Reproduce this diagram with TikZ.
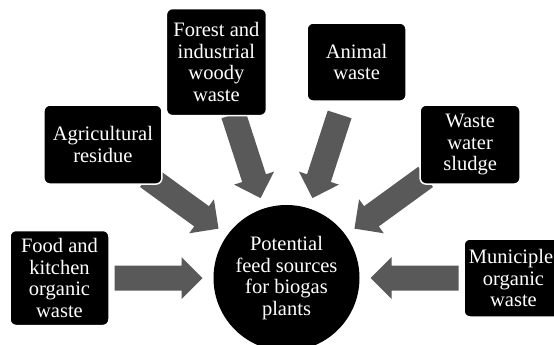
\documentclass[tikz,border=0pt]{standalone}
\usepackage{fontspec}
\setmainfont{Liberation Serif}
\usetikzlibrary{calc}
\pgfdeclarelayer{bg}
\pgfsetlayers{bg,main}
\definecolor{arrowgray}{RGB}{89,89,89}
\tikzset{
  labelfont/.style={font=\fontsize{20.5}{21.5}\selectfont},
  srcbox/.style={rectangle, rounded corners=6pt, fill=black, draw=white,
    line width=1.5pt, text=white, align=center, inner sep=0pt, labelfont},
  hub/.style={circle, fill=black, text=white, align=center,
    minimum size=146pt, inner sep=0pt, labelfont},
  feedfill/.style={fill=arrowgray}
}
\newcommand\feedarrow[1]{%
  \path ($(C.center)!84pt!(#1.center)$) coordinate (tp)
        ($(C.center)!105pt!(#1.center)$) coordinate (hb)
        ($(C.center)!172pt!(#1.center)$) coordinate (tl);
  \fill[feedfill] (tp) -- ($(hb)!21pt!90:(#1.center)$) -- ($(hb)!12.5pt!90:(#1.center)$)
    -- ($(tl)!12.5pt!90:(#1.center)$) -- ($(tl)!12.5pt!-90:(#1.center)$)
    -- ($(hb)!12.5pt!-90:(#1.center)$) -- ($(hb)!21pt!-90:(#1.center)$) -- cycle;
}
\begin{document}
\begin{tikzpicture}[x=1pt,y=-1pt]
\useasboundingbox (0,0) rectangle (554,345);
\node[hub] (C) at (286.5,278) {Potential\\feed sources\\for biogas\\plants};
\node[srcbox, minimum width=99pt, minimum height=95pt] (food) at (59.5,278) {Food and\\kitchen\\organic\\waste};
\node[srcbox, minimum width=118pt, minimum height=79pt] (agri) at (102.9,144.6) {Agricultural\\residue};
\node[srcbox, minimum width=100pt, minimum height=107pt] (forest) at (216.4,62.1) {Forest and\\industrial\\woody\\waste};
\node[srcbox, minimum width=99pt, minimum height=78pt] (animal) at (356.6,62.1) {Animal\\waste};
\node[srcbox, minimum width=100pt, minimum height=79pt] (water) at (470.1,144.6) {Waste\\water\\sludge};
\node[srcbox, minimum width=99pt, minimum height=78pt] (muni) at (513.5,278) {Municiple\kern5pt\\organic\\waste};
\begin{pgfonlayer}{bg}
\feedarrow{food}
\feedarrow{agri}
\feedarrow{forest}
\feedarrow{animal}
\feedarrow{water}
\feedarrow{muni}
\end{pgfonlayer}
\end{tikzpicture}
\end{document}
